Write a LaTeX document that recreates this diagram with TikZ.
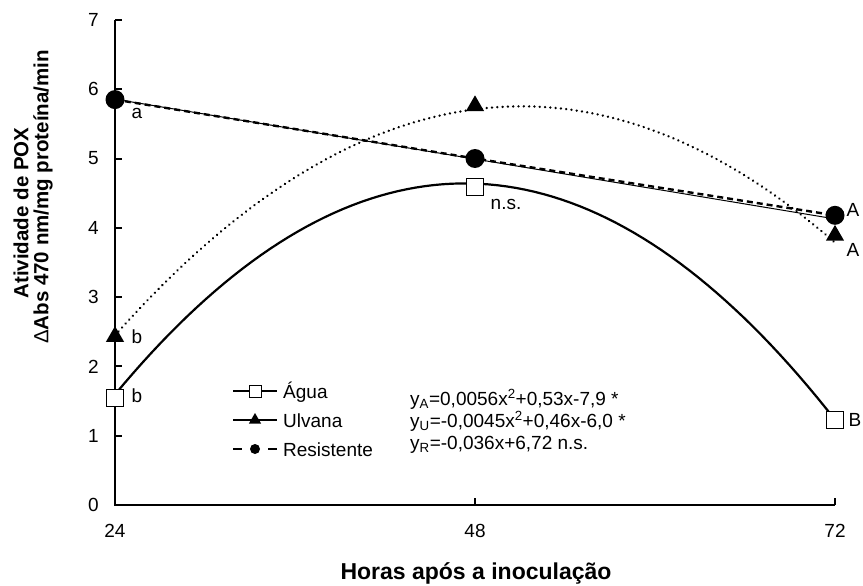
\documentclass[tikz,border=0pt]{standalone}
\usepackage{fontspec}
\setmainfont{Liberation Sans}
\usetikzlibrary{shapes.geometric}
\begin{document}
\begin{tikzpicture}[x=1pt,y=-1pt,font=\fontsize{19}{22}\selectfont,
  axisline/.style={line width=2pt},
  ticklbl/.style={inner sep=0pt},
  agua/.style={line width=2.2pt},
  ulv/.style={line width=2.6pt,line cap=round,dash pattern=on 0.01pt off 5.3pt},
  resreg/.style={line width=1pt},
  resdash/.style={line width=2.4pt,dash pattern=on 6pt off 4pt},
  sqmark/.style={rectangle,draw,line width=1pt,fill=white,minimum size=17pt,inner sep=0pt},
  trimark/.style={regular polygon,regular polygon sides=3,fill=black,minimum size=21pt,inner sep=0pt},
  dotmark/.style={circle,fill=black,minimum size=19pt,inner sep=0pt},
  sqsmall/.style={rectangle,draw,line width=1pt,fill=white,minimum size=12pt,inner sep=0pt},
  trismall/.style={regular polygon,regular polygon sides=3,fill=black,minimum size=14pt,inner sep=0pt},
  dotsmall/.style={circle,fill=black,minimum size=10pt,inner sep=0pt},
  lbl/.style={inner sep=0pt}]
\useasboundingbox (0,0) rectangle (863,586);
% axes
\coordinate (top) at (115,20);
\coordinate (orig) at (115,505);
\coordinate (xend) at (835,505);
\draw[axisline] (top) -- (orig) -- (xend);
\foreach \v in {1,...,7}{
  \draw[axisline] (115,{505-69.3*\v}) -- (122,{505-69.3*\v});
}
\foreach \v in {0,...,7}{
  \node[ticklbl,anchor=east] (yt\v) at (99,{505-69.3*\v}) {\v};
}
\draw[axisline] (475,505) -- (475,498);
\draw[axisline] (835,505) -- (835,498);
\node[ticklbl] (x24) at (115,531) {24};
\node[ticklbl] (x48) at (475,531) {48};
\node[ticklbl] (x72) at (835,531) {72};
\node[ticklbl,font=\fontsize{23}{26}\selectfont\bfseries] (xtitle) at (476,573) {Horas após a inoculação};
\node[ticklbl,rotate=90,font=\fontsize{20.5}{24}\selectfont\bfseries] (ytitle1) at (21,213) {Atividade de POX};
\node[ticklbl,rotate=90,font=\fontsize{20.5}{24}\selectfont\bfseries] (ytitle2) at (43,197) {{\mdseries Δ}Abs 470 nm/mg proteína/min};
% curves
\draw[agua] plot[domain=24:72,samples=80] ({115+(\x-24)*15},{505-69.3*(-0.0056*\x*\x+0.53*\x-7.9)});
\draw[ulv] plot[domain=24:72,samples=80] ({115+(\x-24)*15},{505-69.3*(-0.0045*\x*\x+0.46*\x-6.0)});
\coordinate (r1) at (115,{505-69.3*5.85});
\coordinate (r2) at (475,{505-69.3*5.0});
\coordinate (r3) at (835,{505-69.3*4.18});
\draw[resreg] (115,{505-69.3*5.856}) -- (835,{505-69.3*4.128});
\draw[resdash] (r1) -- (r2) -- (r3);
% markers
\node[sqmark] (a1) at (115,{505-69.3*1.55}) {};
\node[sqmark] (a2) at (475,{505-69.3*4.59}) {};
\node[sqmark] (a3) at (835,{505-69.3*1.23}) {};
\node[trimark] (u1) at (115,{505-69.3*2.43}) {};
\node[trimark] (u2) at (475,{505-69.3*5.76}) {};
\node[trimark] (u3) at (835,{505-69.3*3.89}) {};
\node[dotmark] (d1) at (r1) {};
\node[dotmark] (d2) at (r2) {};
\node[dotmark] (d3) at (r3) {};
% point labels
\node[lbl] (la) at (137,113) {a};
\node[lbl] (lb1) at (137,337) {b};
\node[lbl] (lb2) at (137,396) {b};
\node[lbl] (lns) at (506,204) {n.s.};
\node[lbl] (lA1) at (853,210) {A};
\node[lbl] (lA2) at (853,250) {A};
\node[lbl] (lB) at (855,420) {B};
% legend
\coordinate (g1l) at (233,391); \coordinate (g1r) at (277,391);
\coordinate (g2l) at (233,420); \coordinate (g2r) at (277,420);
\draw[line width=1.2pt] (g1l) -- (g1r);
\draw[line width=1.2pt] (g2l) -- (g2r);
\draw[line width=2.4pt] (233,449) -- (242,449) (268,449) -- (277,449);
\node[sqsmall] (lg1) at (255,391) {};
\node[trismall] (lg2) at (255,420) {};
\node[dotsmall] (lg3) at (255,449) {};
\node[lbl,anchor=base west] (tg1) at (283,398) {Água};
\node[lbl,anchor=base west] (tg2) at (283,427) {Ulvana};
\node[lbl,anchor=base west] (tg3) at (283,456) {Resistente};
% equations
\node[lbl,anchor=base west] (eqA) at (410,405) {y\textsubscript{A}=0,0056x\textsuperscript{2}+0,53x-7,9 *};
\node[lbl,anchor=base west] (eqU) at (410,427) {y\textsubscript{U}=-0,0045x\textsuperscript{2}+0,46x-6,0 *};
\node[lbl,anchor=base west] (eqR) at (410,449) {y\textsubscript{R}=-0,036x+6,72 n.s.};
\end{tikzpicture}
\end{document}
